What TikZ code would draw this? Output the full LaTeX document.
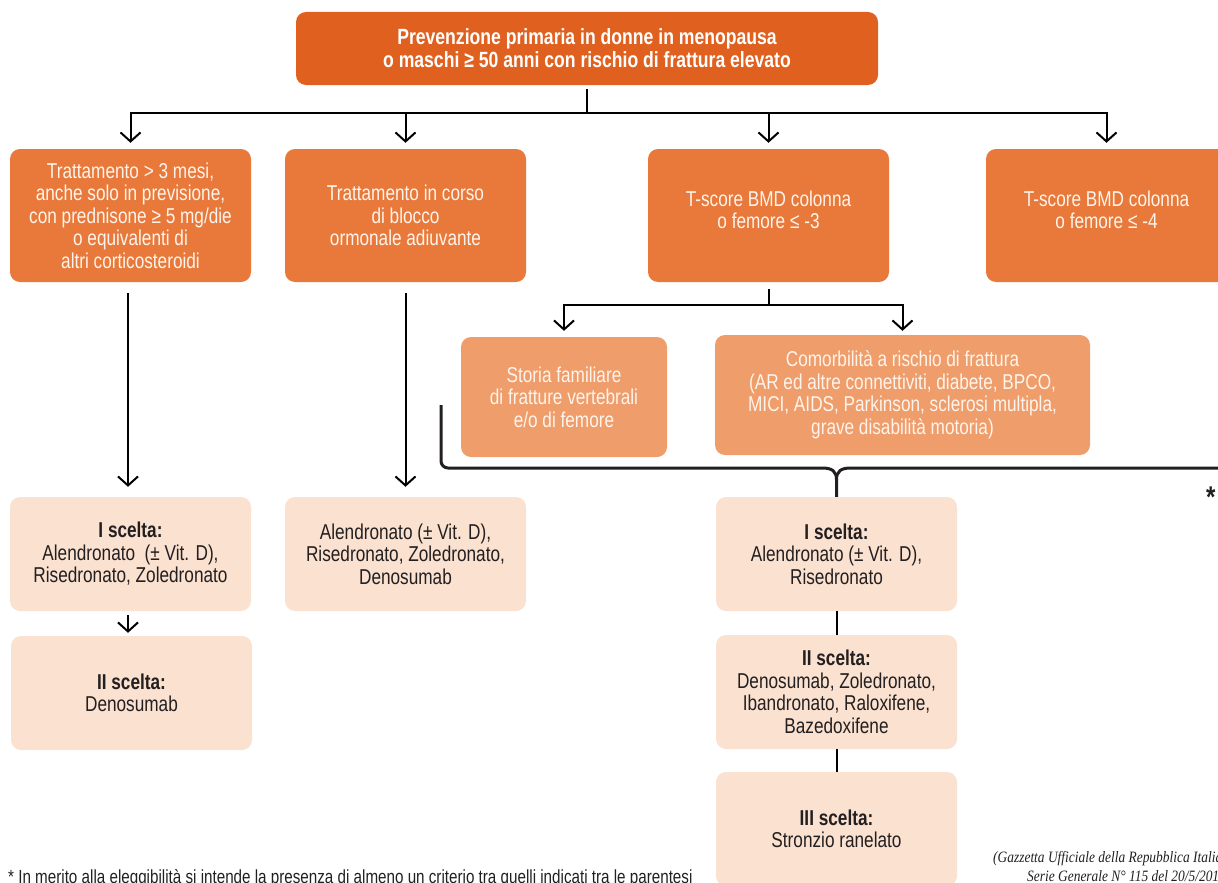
\documentclass[tikz,border=0pt]{standalone}
\usepackage{fontspec}
\setmainfont{Liberation Sans}[FakeStretch=0.8]
\newfontfamily\citef{Liberation Serif}[FakeStretch=0.85]
\usetikzlibrary{arrows.meta}
\definecolor{topor}{HTML}{E0611F}
\definecolor{midor}{HTML}{E8793A}
\definecolor{lightor}{HTML}{EE9D6B}
\definecolor{paleor}{HTML}{FAE1D0}
\definecolor{txtdark}{HTML}{231F20}
\definecolor{txtlight}{HTML}{FFF4EC}
\tikzset{
  box/.style={rounded corners=10pt, inner sep=0pt, align=center, font=\fontsize{21.5}{22.5}\selectfont},
  topbox/.style={box, fill=topor, text=white, font=\bfseries\fontsize{22}{23}\selectfont},
  midbox/.style={box, fill=midor, text=txtlight},
  lightbox/.style={box, fill=lightor, text=txtlight},
  palebox/.style={box, fill=paleor, text=txtdark},
  conn/.style={line width=2pt, draw=black},
  arr/.style={conn, -{Straight Barb[length=9pt,width=20pt,line width=2pt]}},
  bracel/.style={line width=3pt, draw=txtdark},
}
\begin{document}
\begin{tikzpicture}[x=1pt,y=-1pt]
\useasboundingbox (0,0) rectangle (1218,883);
% top
\node[topbox, minimum width=582pt, minimum height=73pt] (top) at (587,48.5)
  {Prevenzione primaria in donne in menopausa\\o maschi ≥ 50 anni con rischio di frattura elevato};
% row 2
\node[midbox, minimum width=241pt, minimum height=133pt] (b1) at (130.5,215.5)
  {Trattamento > 3 mesi,\\anche solo in previsione,\\con prednisone ≥ 5 mg/die\\o equivalenti di\\altri corticosteroidi};
\node[midbox, minimum width=241pt, minimum height=133pt] (b2) at (405.5,215.5)
  {Trattamento in corso\\di blocco\\ormonale adiuvante};
\node[midbox, minimum width=241pt, minimum height=133pt] (b3) at (768.5,215.5)
  {T-score BMD colonna\\o femore ≤ -3\\[-11pt]\mbox{}};
\node[midbox, minimum width=241pt, minimum height=133pt] (b4) at (1106.5,215.5)
  {T-score BMD colonna\\o femore ≤ -4\\[-11pt]\mbox{}};
% row 3
\node[lightbox, minimum width=206pt, minimum height=120pt] (s1) at (564,397)
  {Storia familiare\\di fratture vertebrali\\e/o di femore};
\node[lightbox, minimum width=375pt, minimum height=120pt] (s2) at (902.5,395)
  {Comorbilità a rischio di frattura\\(AR ed altre connettiviti, diabete, BPCO,\\MICI, AIDS, Parkinson, sclerosi multipla,\\grave disabilità motoria)};
% row 4
\node[palebox, minimum width=241pt, minimum height=114pt] (pA) at (130.5,554)
  {\textbf{I scelta:}\\Alendronato \ (± Vit. D),\\Risedronato, Zoledronato};
\node[palebox, minimum width=241pt, minimum height=114pt] (pB) at (405.5,554)
  {Alendronato (± Vit. D),\\Risedronato, Zoledronato,\\Denosumab};
\node[palebox, minimum width=241pt, minimum height=114pt] (pC) at (836.5,554)
  {\textbf{I scelta:}\\Alendronato (± Vit. D),\\Risedronato};
\node[palebox, minimum width=241pt, minimum height=114pt] (pD) at (131.5,693)
  {\textbf{II scelta:}\\Denosumab};
\node[palebox, minimum width=241pt, minimum height=114pt] (pE) at (836.5,692)
  {\textbf{II scelta:}\\Denosumab, Zoledronato,\\Ibandronato, Raloxifene,\\Bazedoxifene};
\node[palebox, minimum width=241pt, minimum height=114pt] (pF) at (836.5,829)
  {\textbf{III scelta:}\\Stronzio ranelato};
% top connectors
\coordinate (tj) at (587,113);
\draw[conn] ([yshift=-4pt]top.south) -- (tj);
\draw[conn] (130.5,113) -- (1106.5,113);
\draw[arr] (130.5,112) -- ([yshift=6pt]b1.north);
\draw[arr] (405.5,112) -- ([yshift=6pt]b2.north);
\draw[arr] (768.5,112) -- ([yshift=6pt]b3.north);
\draw[arr] (1106.5,112) -- ([yshift=6pt]b4.north);
% b3 split
\draw[conn] ([yshift=-7pt]b3.south) -- (768.5,305);
\draw[conn] (564,305) -- (902.5,305);
\draw[arr] (564,304) -- ([yshift=6pt]s1.north);
\draw[arr] (902.5,304) -- ([yshift=4pt]s2.north);
% long arrows
\draw[arr] ([xshift=-2.5pt,yshift=-11pt]b1.south) -- ([xshift=-2.5pt,yshift=10pt]pA.north);
\draw[arr] ([yshift=-11pt]b2.south) -- ([yshift=10pt]pB.north);
\draw[arr] ([xshift=-2.5pt,yshift=-4pt]pA.south) -- ([xshift=-3.5pt,yshift=3pt]pD.north);
% center chain
\draw[conn] (pC.south) -- (pE.north);
\draw[conn] (pE.south) -- (pF.north);
% brace
\coordinate (bl) at (441,405);
\coordinate (br) at (1230,468);
\draw[bracel, rounded corners=7pt] (bl) -- (441,468) -- (822,468);
\draw[bracel] (822,468) .. controls (832,468) and (836.5,471) .. (836.5,480) -- (pC.north);
\draw[bracel] (br) -- (851,468) .. controls (841,468) and (836.5,471) .. (836.5,480);
\node[font=\bfseries\fontsize{30}{30}\selectfont, anchor=north west, inner sep=0pt, text=txtdark] (ast) at (1206,487) {*};
% footnote and source
\node[anchor=base west, inner sep=0pt, text=txtdark, font=\fontsize{19}{20}\selectfont] (fn) at (8,883)
  {* In merito alla eleggibilità si intende la presenza di almeno un criterio tra quelli indicati tra le parentesi};
\node[anchor=base west, inner sep=0pt, text=txtdark, font=\citef\itshape\fontsize{15.8}{18}\selectfont] (src1) at (993,862)
  {(Gazzetta Ufficiale della Repubblica Italiana};
\node[anchor=base west, inner sep=0pt, text=txtdark, font=\citef\itshape\fontsize{15.8}{18}\selectfont] (src2) at (1027,881)
  {Serie Generale N° 115 del 20/5/2015)};
\end{tikzpicture}
\end{document}
